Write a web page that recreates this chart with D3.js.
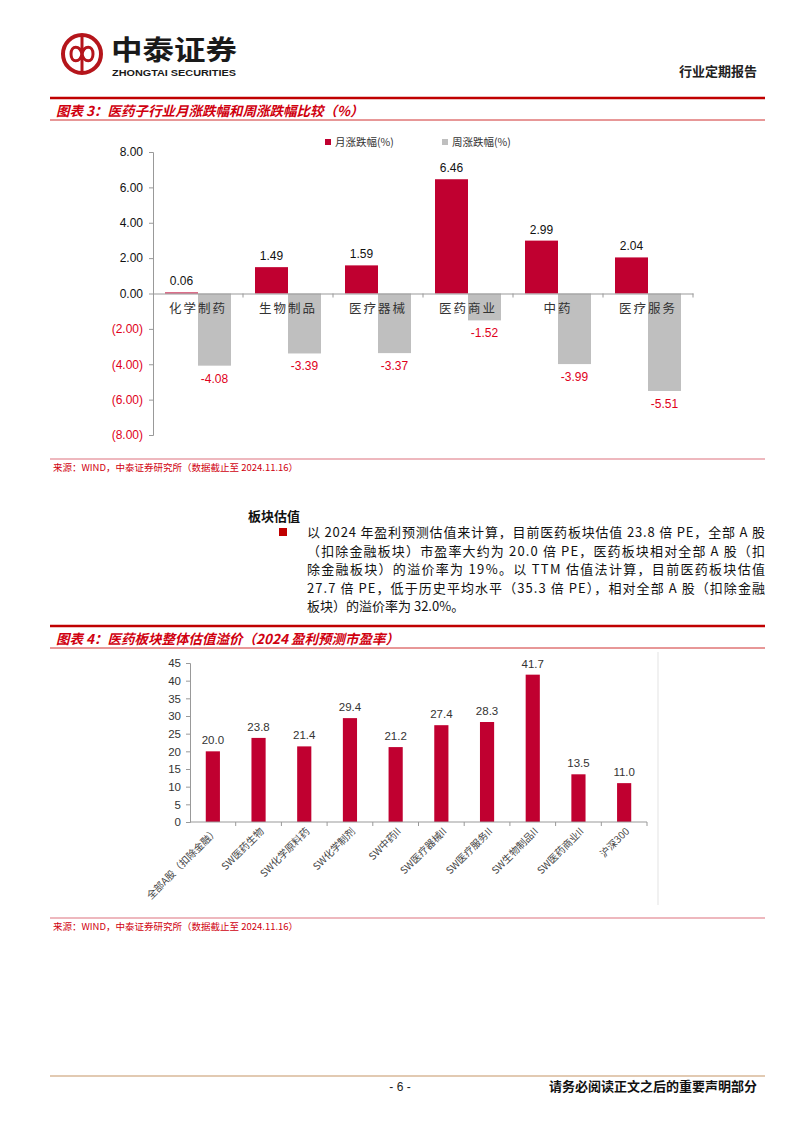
<!DOCTYPE html>
<html>
<head>
<meta charset="utf-8">
<script src="https://cdn.jsdelivr.net/npm/d3@7"></script>
<style>
  body { margin: 0; background: #fff; }
  text { font-family: "Liberation Sans", Arial, "Noto Sans CJK SC", sans-serif; }
  .cjk { font-family: "Noto Sans CJK SC", sans-serif; }
</style>
</head>
<body>
<div id="page"></div>
<script>
var W = 802, H = 1133;
var RED = '#c00030';
var TXT_RED = '#e0001b';

// chart 3 data
var sectors = ['化学制药', '生物制品', '医疗器械', '医药商业', '中药', '医疗服务'];
var monthChg = [0.06, 1.49, 1.59, 6.46, 2.99, 2.04];
var weekChg = [-4.08, -3.39, -3.37, -1.52, -3.99, -5.51];
var seriesNames = ['月涨跌幅(%)', '周涨跌幅(%)'];
var yTicks1 = [-8, -6, -4, -2, 0, 2, 4, 6, 8];

// chart 4 data
var peNames = ['全部A股（扣除金融）', 'SW医药生物', 'SW化学原料药', 'SW化学制剂', 'SW中药II',
  'SW医疗器械II', 'SW医疗服务II', 'SW生物制品II', 'SW医药商业II', '沪深300'];
var peValues = [20.0, 23.8, 21.4, 29.4, 21.2, 27.4, 28.3, 41.7, 13.5, 11.0];
var yTicks2 = [0, 5, 10, 15, 20, 25, 30, 35, 40, 45];

var paraLines = [
  '以 2024 年盈利预测估值来计算，目前医药板块估值 23.8 倍 PE，全部 A 股',
  '（扣除金融板块）市盈率大约为 20.0 倍 PE，医药板块相对全部 A 股（扣',
  '除金融板块）的溢价率为 19%。以 TTM 估值法计算，目前医药板块估值',
  '27.7 倍 PE，低于历史平均水平（35.3 倍 PE），相对全部 A 股（扣除金融',
  '板块）的溢价率为 32.0%。'
];

// plain hyphen instead of d3's unicode minus
var fmt2 = function (v) { return v.toFixed(2); };

var svg = d3.select('#page')
  .append('svg')
  .attr('width', W)
  .attr('height', H);

// ---------- header ----------
var logo = svg.append('g').attr('transform', 'translate(82,54)');
logo.append('circle').attr('r', 19).attr('fill', 'none').attr('stroke', '#b5151b').attr('stroke-width', 4);
logo.append('path')
  .attr('d', 'M-11,0 C-11,-9 -2,-9 0,0 C2,9 11,9 11,0 C11,-9 2,-9 0,0 C-2,9 -11,9 -11,0 Z')
  .attr('fill', 'none').attr('stroke', '#b5151b').attr('stroke-width', 3);
logo.append('line').attr('x1', 0).attr('x2', 0).attr('y1', -17).attr('y2', 17)
  .attr('stroke', '#b5151b').attr('stroke-width', 3);

svg.append('text').attr('class', 'cjk')
  .attr('x', 111).attr('y', 60)
  .attr('font-size', 27).attr('font-weight', 'bold').attr('fill', '#1a1a1a')
  .attr('textLength', 126).attr('lengthAdjust', 'spacingAndGlyphs')
  .text('中泰证券');
svg.append('text')
  .attr('x', 112).attr('y', 76)
  .attr('font-size', 9.5).attr('font-weight', 'bold').attr('fill', '#1a1a1a')
  .attr('textLength', 124).attr('lengthAdjust', 'spacingAndGlyphs')
  .text('ZHONGTAI SECURITIES');
svg.append('text').attr('class', 'cjk')
  .attr('x', 757).attr('y', 76).attr('text-anchor', 'end')
  .attr('font-size', 13).attr('font-weight', 'bold').attr('fill', '#222')
  .text('行业定期报告');

function titleBar(y, label) {
  svg.append('line').attr('x1', 50).attr('x2', 765).attr('y1', y).attr('y2', y)
    .attr('stroke', '#c00000').attr('stroke-width', 2.5);
  svg.append('text').attr('class', 'cjk')
    .attr('x', 56).attr('y', y + 18)
    .attr('font-size', 13.5).attr('font-weight', 'bold').attr('font-style', 'italic')
    .attr('fill', '#d0000f')
    .text(label);
  svg.append('line').attr('x1', 50).attr('x2', 765).attr('y1', y + 22).attr('y2', y + 22)
    .attr('stroke', '#d03030').attr('stroke-width', 1);
}

function sourceLine(y) {
  svg.append('line').attr('x1', 50).attr('x2', 765).attr('y1', y).attr('y2', y)
    .attr('stroke', '#e8a0a8').attr('stroke-width', 1.5);
  svg.append('text').attr('class', 'cjk')
    .attr('x', 53).attr('y', y + 12)
    .attr('font-size', 9.5).attr('fill', '#d0000f')
    .text('来源：WIND，中泰证券研究所（数据截止至 2024.11.16）');
}

// ---------- chart 3 ----------
titleBar(98, '图表 3：医药子行业月涨跌幅和周涨跌幅比较（%）');

var x1 = d3.scaleBand().domain(sectors).range([153, 693]);
var xs = d3.scaleBand().domain(seriesNames).range([0, x1.bandwidth()]).paddingOuter(0.364);
var y1 = d3.scaleLinear().domain([-8, 8]).range([435, 152]);

var g1 = svg.append('g');

var ax1 = g1.append('g').attr('transform', 'translate(153,0)')
  .call(d3.axisLeft(y1).tickValues(yTicks1).tickSize(4).tickPadding(6)
    .tickFormat(function (d) {
      return d < 0 ? '(' + fmt2(-d) + ')' : fmt2(d);
    }));
ax1.select('.domain').attr('stroke', '#999');
ax1.selectAll('.tick line').attr('stroke', '#999');
ax1.selectAll('.tick text')
  .attr('font-size', 12)
  .attr('fill', function (d) { return d < 0 ? TXT_RED : '#111'; });

var rows = sectors.map(function (s, i) { return { name: s, m: monthChg[i], w: weekChg[i] }; });

g1.selectAll('rect.m').data(rows).enter().append('rect')
  .attr('x', function (d) { return x1(d.name) + xs(seriesNames[0]); })
  .attr('width', xs.bandwidth())
  .attr('y', function (d) { return y1(Math.max(0, d.m)); })
  .attr('height', function (d) { return Math.abs(y1(d.m) - y1(0)); })
  .attr('fill', RED);

g1.selectAll('rect.w').data(rows).enter().append('rect')
  .attr('x', function (d) { return x1(d.name) + xs(seriesNames[1]); })
  .attr('width', xs.bandwidth())
  .attr('y', function (d) { return y1(Math.max(0, d.w)); })
  .attr('height', function (d) { return Math.abs(y1(d.w) - y1(0)); })
  .attr('fill', '#bfbfbf');

// zero axis
var ax1b = g1.append('g').attr('transform', 'translate(0,' + y1(0) + ')')
  .call(d3.axisBottom(x1).tickSize(0).tickFormat(''));
ax1b.select('.domain').attr('stroke', '#999');
g1.selectAll('line.bt').data(sectors).enter().append('line')
  .attr('x1', function (d) { return x1(d) + x1.step(); })
  .attr('x2', function (d) { return x1(d) + x1.step(); })
  .attr('y1', y1(0)).attr('y2', y1(0) + 4)
  .attr('stroke', '#999');

g1.selectAll('text.cat').data(rows).enter().append('text')
  .attr('class', 'cjk')
  .attr('x', function (d) { return x1(d.name) + x1.bandwidth() / 2; })
  .attr('y', y1(0) + 19)
  .attr('text-anchor', 'middle')
  .attr('font-size', 12.5).attr('letter-spacing', 2).attr('fill', '#333')
  .text(function (d) { return d.name; });

g1.selectAll('text.mv').data(rows).enter().append('text')
  .attr('x', function (d) { return x1(d.name) + xs(seriesNames[0]) + xs.bandwidth() / 2; })
  .attr('y', function (d) { return y1(d.m) - 7; })
  .attr('text-anchor', 'middle').attr('font-size', 12).attr('fill', '#111')
  .text(function (d) { return fmt2(d.m); });

g1.selectAll('text.wv').data(rows).enter().append('text')
  .attr('x', function (d) { return x1(d.name) + xs(seriesNames[1]) + xs.bandwidth() / 2; })
  .attr('y', function (d) { return y1(d.w) + 17; })
  .attr('text-anchor', 'middle').attr('font-size', 12).attr('fill', TXT_RED)
  .text(function (d) { return fmt2(d.w); });

// legend
var legendX = [325, 442];
var leg = g1.selectAll('g.leg').data(seriesNames).enter().append('g')
  .attr('transform', function (d, i) { return 'translate(' + legendX[i] + ',142)'; });
leg.append('rect').attr('x', 0).attr('y', -3).attr('width', 6).attr('height', 6)
  .attr('fill', function (d, i) { return i === 0 ? RED : '#bfbfbf'; });
leg.append('text').attr('class', 'cjk')
  .attr('x', 10).attr('y', 4).attr('font-size', 10.5).attr('fill', '#333')
  .text(function (d) { return d; });

sourceLine(459);

// ---------- paragraph ----------
svg.append('text').attr('class', 'cjk')
  .attr('x', 248).attr('y', 521)
  .attr('font-size', 13).attr('font-weight', 'bold').attr('fill', '#111')
  .text('板块估值');
svg.append('rect').attr('x', 279).attr('y', 528).attr('width', 8).attr('height', 8).attr('fill', '#c00000');
svg.selectAll('text.para').data(paraLines).enter().append('text')
  .attr('class', 'cjk')
  .attr('x', 307)
  .attr('y', function (d, i) { return 537 + i * 18.6; })
  .attr('font-size', 13).attr('fill', '#111')
  .attr('textLength', function (d, i) { return i < paraLines.length - 1 ? 458 : null; })
  .attr('lengthAdjust', 'spacing')
  .text(function (d) { return d; });

// ---------- chart 4 ----------
titleBar(626, '图表 4：医药板块整体估值溢价（2024 盈利预测市盈率）');

var x2 = d3.scaleBand().domain(peNames).range([190, 647]).paddingInner(0.69).paddingOuter(0.345);
var y2 = d3.scaleLinear().domain([0, 45]).range([822, 663]);
var g2 = svg.append('g');

// frame line on right
g2.append('line').attr('x1', 658).attr('x2', 658).attr('y1', 652).attr('y2', 905)
  .attr('stroke', '#e3e3e3');

var ax2 = g2.append('g').attr('transform', 'translate(190,0)')
  .call(d3.axisLeft(y2).tickValues(yTicks2).tickSize(4).tickPadding(5));
ax2.select('.domain').attr('stroke', '#999');
ax2.selectAll('.tick line').attr('stroke', '#999');
ax2.selectAll('.tick text').attr('font-size', 11.5).attr('fill', '#333');

g2.selectAll('rect.pe').data(peNames).enter().append('rect')
  .attr('x', function (d) { return x2(d); })
  .attr('width', x2.bandwidth())
  .attr('y', function (d, i) { return y2(peValues[i]); })
  .attr('height', function (d, i) { return y2(0) - y2(peValues[i]); })
  .attr('fill', RED);

g2.append('line').attr('x1', 190).attr('x2', 647).attr('y1', y2(0)).attr('y2', y2(0))
  .attr('stroke', '#999');
g2.selectAll('line.bt').data(peNames).enter().append('line')
  .attr('x1', function (d) { return x2(d) - x2.step() * x2.paddingInner() / 2 + x2.step(); })
  .attr('x2', function (d) { return x2(d) - x2.step() * x2.paddingInner() / 2 + x2.step(); })
  .attr('y1', y2(0)).attr('y2', y2(0) + 4)
  .attr('stroke', '#999');

g2.selectAll('text.pv').data(peNames).enter().append('text')
  .attr('x', function (d) { return x2(d) + x2.bandwidth() / 2; })
  .attr('y', function (d, i) { return y2(peValues[i]) - 7; })
  .attr('text-anchor', 'middle').attr('font-size', 11.5).attr('fill', '#333')
  .text(function (d, i) { return peValues[i].toFixed(1); });

g2.selectAll('text.pn').data(peNames).enter().append('text')
  .attr('class', 'cjk')
  .attr('text-anchor', 'end')
  .attr('font-size', 10).attr('fill', '#444')
  .attr('transform', function (d) {
    return 'translate(' + (x2(d) + x2.bandwidth() / 2 + 6) + ',' + (y2(0) + 10) + ') rotate(-45)';
  })
  .text(function (d) { return d; });

sourceLine(918);

// ---------- footer ----------
svg.append('line').attr('x1', 50).attr('x2', 765).attr('y1', 1076).attr('y2', 1076)
  .attr('stroke', '#d8b898').attr('stroke-width', 1.5);
svg.append('text')
  .attr('x', 400).attr('y', 1091).attr('text-anchor', 'middle')
  .attr('font-size', 12).attr('fill', '#222')
  .text('- 6 -');
svg.append('text').attr('class', 'cjk')
  .attr('x', 757).attr('y', 1091).attr('text-anchor', 'end')
  .attr('font-size', 13).attr('font-weight', 'bold').attr('fill', '#111')
  .text('请务必阅读正文之后的重要声明部分');
</script>
</body>
</html>
